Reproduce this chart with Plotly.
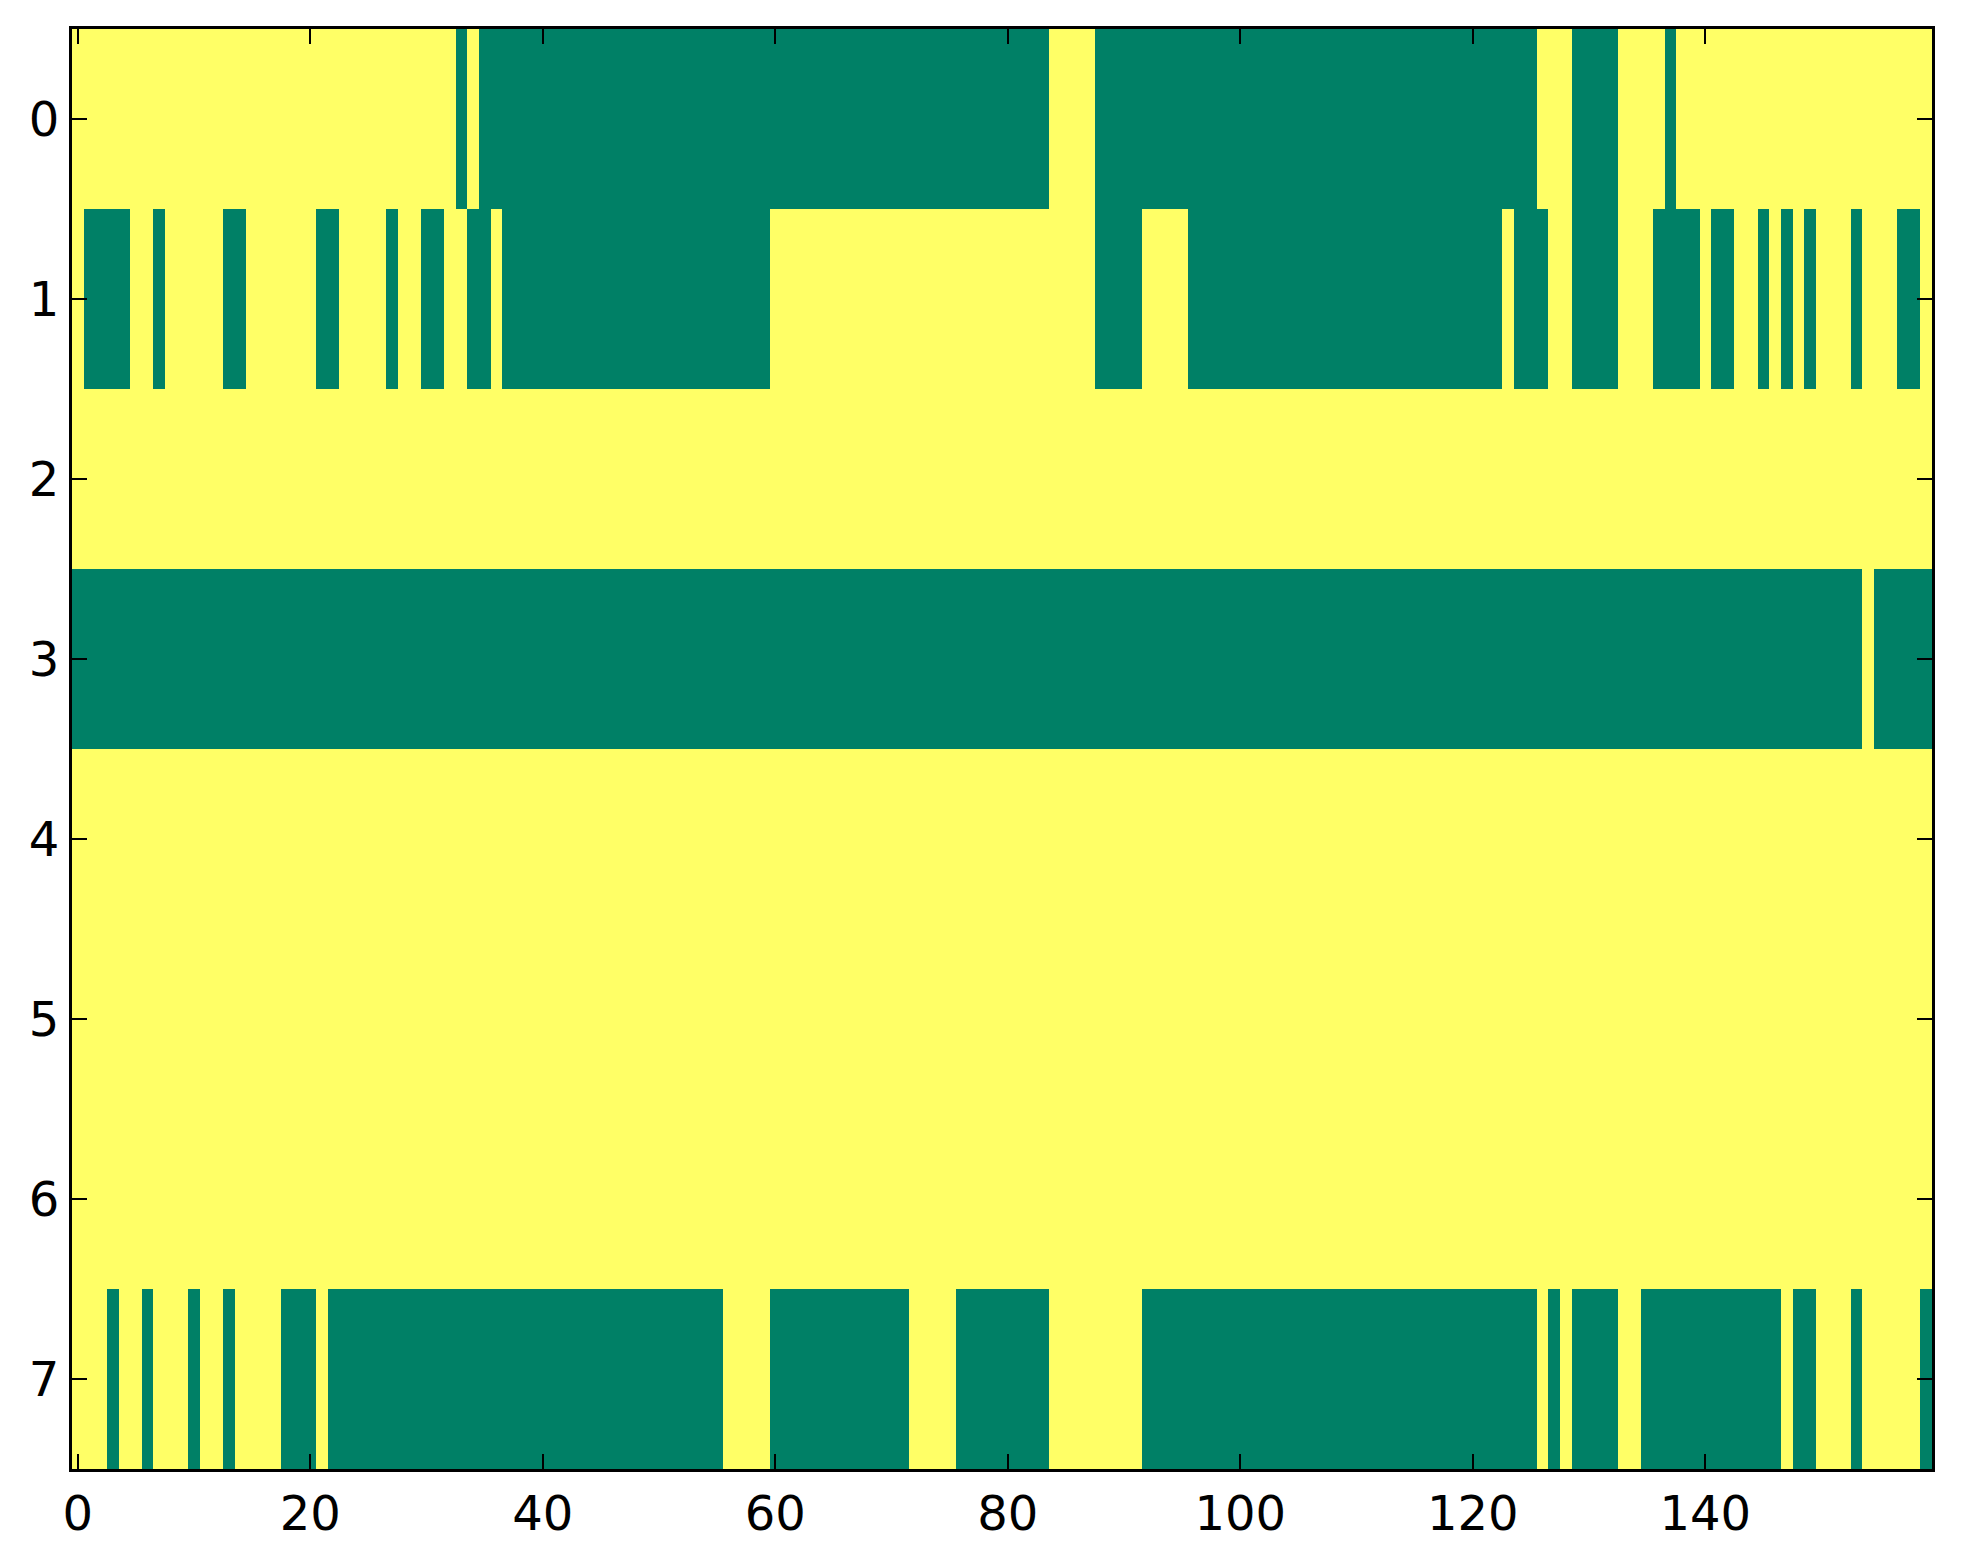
import plotly.graph_objects as go

# Each row: 160 cells, "1" = yellow (high), "0" = green (low). Groups of 10 for readability.
row0 = "1111111111 1111111111 1111111111 1110100000 0000000000 0000000000 0000000000 0000000000 0000111100 0000000000 0000000000 0000000000 0000001110 0001111011 1111111111 1111111111"
row1 = "1000011011 1110011111 1001111011 0011001000 0000000000 0000000000 1111111111 1111111111 1111111100 0011110000 0000000000 0000000000 0001000110 0001110000 1001101010 1110111001"
row2 = "1111111111 1111111111 1111111111 1111111111 1111111111 1111111111 1111111111 1111111111 1111111111 1111111111 1111111111 1111111111 1111111111 1111111111 1111111111 1111111111"
row3 = "0000000000 0000000000 0000000000 0000000000 0000000000 0000000000 0000000000 0000000000 0000000000 0000000000 0000000000 0000000000 0000000000 0000000000 0000000000 0000100000"
row4 = "1111111111 1111111111 1111111111 1111111111 1111111111 1111111111 1111111111 1111111111 1111111111 1111111111 1111111111 1111111111 1111111111 1111111111 1111111111 1111111111"
row5 = "1111111111 1111111111 1111111111 1111111111 1111111111 1111111111 1111111111 1111111111 1111111111 1111111111 1111111111 1111111111 1111111111 1111111111 1111111111 1111111111"
row6 = "1111111111 1111111111 1111111111 1111111111 1111111111 1111111111 1111111111 1111111111 1111111111 1111111111 1111111111 1111111111 1111111111 1111111111 1111111111 1111111111"
row7 = "1110110111 0110111100 0100000000 0000000000 0000000000 0000001111 0000000000 0011110000 0000111111 1100000000 0000000000 0000000000 0000001010 0001100000 0000000100 1110111110"

rows = [row0, row1, row2, row3, row4, row5, row6, row7]
x_ticks = [0, 20, 40, 60, 80, 100, 120, 140]
y_ticks = [0, 1, 2, 3, 4, 5, 6, 7]

z = [[int(c) for c in r.replace(" ", "")] for r in rows]

# matplotlib "summer" colormap ends
colors = [[0, "rgb(0,128,102)"], [1, "rgb(255,255,102)"]]

fig = go.Figure()
fig.add_trace(go.Heatmap(z=z, colorscale=colors, zmin=0, zmax=1, showscale=False,
                         hoverinfo="skip"))

axis_style = dict(
    showline=True, linecolor="black", linewidth=3, mirror="allticks",
    ticks="inside", ticklen=15, tickwidth=2, tickcolor="black",
    showgrid=False, zeroline=False,
    tickfont=dict(family="DejaVu Sans", size=48, color="black"),
)

fig.update_xaxes(range=[-0.5, 159.5], tickvals=x_ticks, **axis_style)
fig.update_yaxes(range=[7.5, -0.5], tickvals=y_ticks, **axis_style)

# page body adds ~8px margin, so the figure is 8px smaller and shifted back
fig.update_layout(
    width=1955, height=1556,
    margin=dict(l=64, r=31, t=21, b=95),
    plot_bgcolor="white", paper_bgcolor="white",
)

fig.write_html("out.html")
